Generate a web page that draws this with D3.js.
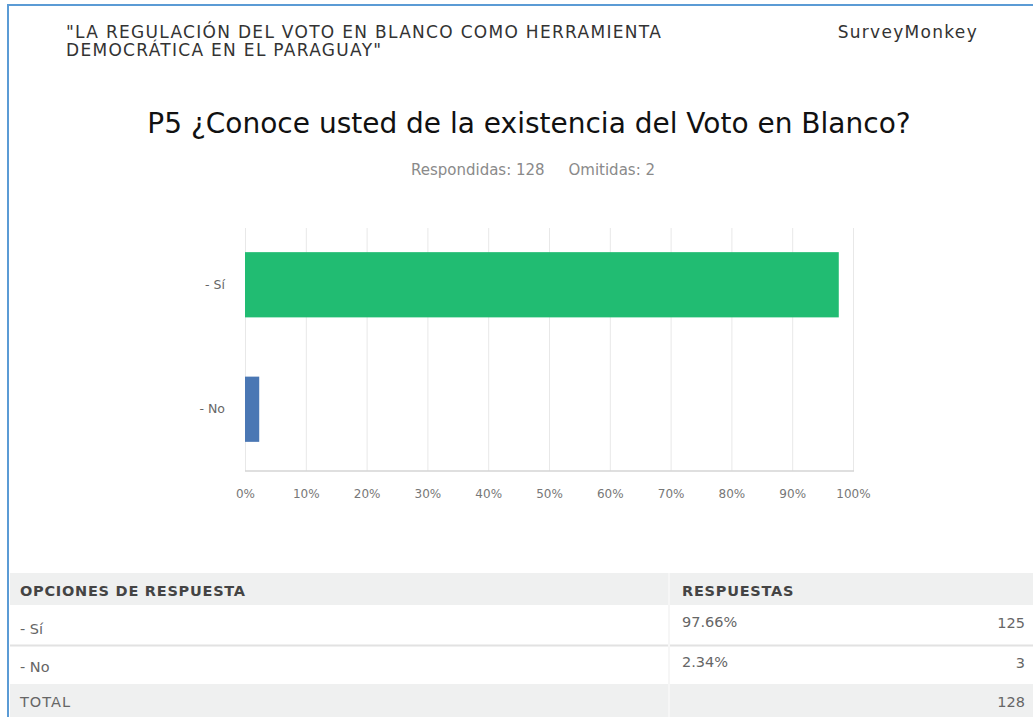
<!DOCTYPE html>
<html>
<head>
<meta charset="utf-8">
<script src="https://cdn.jsdelivr.net/npm/d3@7"></script>
<style>
  html, body { margin: 0; padding: 0; background: #fff; }
  svg { display: block; font-family: "DejaVu Sans", Verdana, sans-serif; }
</style>
</head>
<body>
<svg id="chart" width="1033" height="717"></svg>
<script>
// ---- data ----
const headerLines = ['"LA REGULACIÓN DEL VOTO EN BLANCO COMO HERRAMIENTA', 'DEMOCRÁTICA EN EL PARAGUAY"'];
const brand = "SurveyMonkey";
const title = "P5 ¿Conoce usted de la existencia del Voto en Blanco?";
const answered = 128;
const skipped = 2;
const categories = ["- Sí", "- No"];
const percents = [97.66, 2.34];
const counts = [125, 3];
const total = 128;
const barColors = ["#21bc72", "#4a77b4"];
const xTicks = [0, 10, 20, 30, 40, 50, 60, 70, 80, 90, 100];
const tableHeaders = ["OPCIONES DE RESPUESTA", "RESPUESTAS"];
const totalLabel = "TOTAL";

const FONT = "'DejaVu Sans', Verdana, sans-serif";
const svg = d3.select("#chart");

// frame border (blue)
svg.append("line").attr("x1", 7).attr("x2", 1033).attr("y1", 5).attr("y2", 5)
  .attr("stroke", "#5b9bd5").attr("stroke-width", 2);
svg.append("line").attr("x1", 8).attr("x2", 8).attr("y1", 4).attr("y2", 717)
  .attr("stroke", "#5b9bd5").attr("stroke-width", 2);

// header (one text block, two lines)
const hdr = svg.append("text").attr("x", 66).attr("y", 38)
  .attr("font-size", 17).attr("letter-spacing", 1.3).attr("fill", "#333");
hdr.selectAll("tspan").data(headerLines).join("tspan")
  .attr("x", 66).attr("dy", (d, i) => i === 0 ? 0 : 18).text(d => d);
svg.append("text").attr("x", 978).attr("y", 38).attr("text-anchor", "end")
  .attr("font-size", 17).attr("letter-spacing", 1.3).attr("fill", "#333").text(brand);

// title
svg.append("text").attr("x", 529).attr("y", 133).attr("text-anchor", "middle")
  .attr("font-size", 28).attr("fill", "#111").text(title);

svg.append("text").attr("x", 533).attr("y", 175).attr("text-anchor", "middle")
  .attr("font-size", 15).attr("fill", "#8a8a8a").attr("xml:space", "preserve")
  .text(`Respondidas: ${answered}     Omitidas: ${skipped}`);

// chart
const x = d3.scaleLinear().domain([0, 100]).range([245, 853]);
const y = d3.scaleBand().domain(categories).range([228, 466]).paddingInner(0.476).paddingOuter(0.194);
const plotTop = 228, plotBottom = 471;

const g = svg.append("g");
g.append("g").attr("transform", `translate(0,${plotBottom})`)
  .call(d3.axisBottom(x).tickValues(xTicks).tickFormat(d => d + "%").tickSize(-(plotBottom - plotTop)).tickPadding(18))
  .call(a => a.select(".domain").remove())
  .call(a => a.selectAll(".tick line").attr("stroke", "#e8e8e8"))
  .call(a => a.selectAll(".tick text").attr("fill", "#777").attr("font-size", 12)
    .attr("font-family", FONT));
g.append("line").attr("x1", x(0)).attr("x2", x(100) + 1).attr("y1", plotBottom).attr("y2", plotBottom)
  .attr("stroke", "#d4d4d4").attr("stroke-width", 1.5);

g.selectAll("rect.bar").data(categories).join("rect").attr("class", "bar")
  .attr("x", x(0)).attr("y", d => y(d))
  .attr("width", (d, i) => x(percents[i]) - x(0))
  .attr("height", y.bandwidth())
  .attr("fill", (d, i) => barColors[i]);

g.append("g").attr("transform", `translate(${x(0)},0)`)
  .call(d3.axisLeft(y).tickSize(0).tickPadding(20))
  .call(a => a.select(".domain").remove())
  .call(a => a.selectAll(".tick text").attr("fill", "#666").attr("font-size", 12.5)
    .attr("font-family", FONT));

// table
const tX0 = 10, tX1 = 1033, colX = 669;
const rows = [
  { y0: 573, y1: 605, bg: "#eff0f0" },
  { y0: 605, y1: 645, bg: "#ffffff" },
  { y0: 646, y1: 684, bg: "#ffffff" },
  { y0: 684, y1: 717, bg: "#eff0f0" }
];
const tg = svg.append("g");
tg.selectAll("rect").data(rows).join("rect")
  .attr("x", tX0).attr("y", d => d.y0).attr("width", tX1 - tX0).attr("height", d => d.y1 - d.y0)
  .attr("fill", d => d.bg);
tg.append("line").attr("x1", tX0).attr("x2", tX1).attr("y1", 645.5).attr("y2", 645.5)
  .attr("stroke", "#e2e2e2").attr("stroke-width", 2);
tg.append("line").attr("x1", colX).attr("x2", colX).attr("y1", 573).attr("y2", 717)
  .attr("stroke", "#f6f6f6").attr("stroke-width", 2);

tg.selectAll("text.hdr").data(tableHeaders).join("text").attr("class", "hdr")
  .attr("x", (d, i) => i === 0 ? 20 : 682).attr("y", 596)
  .attr("font-size", 14.5).attr("font-weight", "bold").attr("letter-spacing", 0.75).attr("fill", "#444").text(d => d);

const rowBase = [634, 672];
const valBase = [627, 667];
tg.selectAll("text.cat").data(categories).join("text").attr("class", "cat")
  .attr("x", 20).attr("y", (d, i) => rowBase[i]).attr("font-size", 14.5).attr("fill", "#666").text(d => d);
tg.selectAll("text.pct").data(percents).join("text").attr("class", "pct")
  .attr("x", 682).attr("y", (d, i) => valBase[i]).attr("font-size", 14.5).attr("fill", "#666")
  .text(d => d.toFixed(2) + "%");
tg.selectAll("text.cnt").data(counts).join("text").attr("class", "cnt")
  .attr("x", 1025).attr("y", (d, i) => valBase[i] + 1).attr("text-anchor", "end").attr("font-size", 14.5).attr("fill", "#666")
  .text(d => d);
tg.append("text").attr("x", 20).attr("y", 707).attr("font-size", 14.5).attr("letter-spacing", 1).attr("fill", "#666").text(totalLabel);
tg.append("text").attr("x", 1025).attr("y", 707).attr("text-anchor", "end").attr("font-size", 14.5).attr("fill", "#666").text(total);
</script>
</body>
</html>
